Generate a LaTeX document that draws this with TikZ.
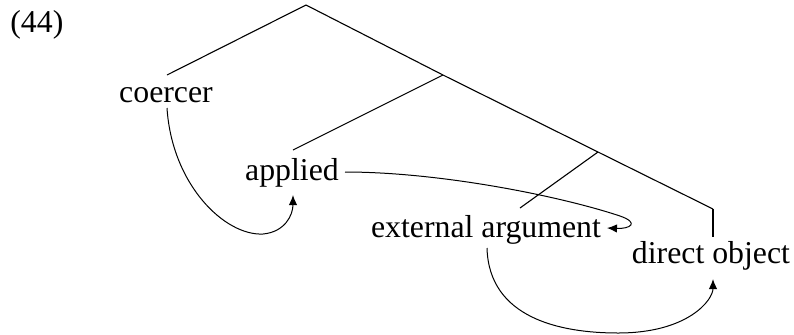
\documentclass[tikz,border=0pt]{standalone}
\usepackage{fontspec}
\setmainfont{Liberation Serif}
\usetikzlibrary{arrows.meta}
\begin{document}
\begin{tikzpicture}[x=0.5pt,y=-0.5pt,
  lbl/.style={anchor=base,inner sep=0pt,font=\fontsize{15.9}{18}\selectfont},
  branch/.style={line width=0.55pt},
  mv/.style={line width=0.5pt,-{Latex[length=5pt,width=4.2pt]}}]
\useasboundingbox (0,0) rectangle (794,334);
% labels
\node[lbl,anchor=base west] (ex) at (10,32) {(44)};
\node[lbl] (coercer) at (166,102) {coercer};
\node[lbl] (applied) at (292,180) {applied};
\node[lbl] (ext) at (486,237) {external argument};
\node[lbl] (dobj) at (711,263) {direct object};
% tree
\coordinate (root) at (306,5);
\coordinate (n1) at (443,75);
\coordinate (n2) at (598,152);
\coordinate (n3) at (713,209);
\coordinate (tc) at (167,75);
\coordinate (ta) at (293,150);
\coordinate (te) at (520,208);
\coordinate (td) at (713,237);
\draw[branch] (tc) -- (root) -- (n1) -- (n2) -- (n3);
\draw[branch] (n1) -- (ta);
\draw[branch] (n2) -- (te);
\draw[line width=1pt] (n3) -- (td);
% movement arrows
\coordinate (c0) at (167,108);
\coordinate (a1) at (293,195);
\draw[mv] (c0) .. controls (172,185) and (225,236) .. (263,234)
  .. controls (285,232) and (293,215) .. (a1);
\coordinate (a0) at (345,172);
\coordinate (e1) at (607,228);
\draw[mv] (a0) .. controls (440,172) and (560,196) .. (620,216)
  .. controls (640,223) and (630,229) .. (e1);
\coordinate (e0) at (487,248);
\coordinate (d1) at (713,279);
\draw[mv] (e0) .. controls (489,318) and (560,333) .. (618,333)
  .. controls (688,333) and (713,300) .. (d1);
\end{tikzpicture}
\end{document}
